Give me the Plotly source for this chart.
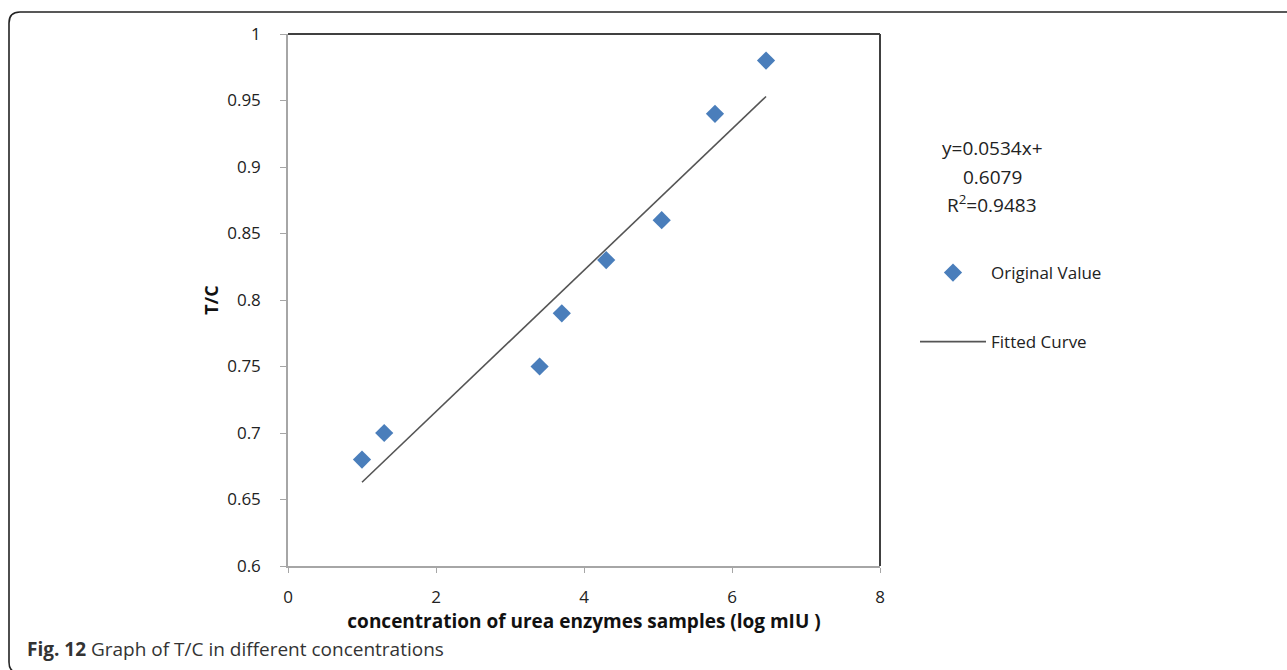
import plotly.graph_objects as go

# ---- data ----
conc_log = [1.0, 1.3, 3.4, 3.7, 4.3, 5.05, 5.77, 6.46]
tc_ratio = [0.68, 0.70, 0.75, 0.79, 0.83, 0.86, 0.94, 0.98]

fit_x = [1.0, 6.46]
fit_y = [0.663, 0.953]

y_tickvals = [0.6, 0.65, 0.7, 0.75, 0.8, 0.85, 0.9, 0.95, 1.0]
y_ticktext = ["0.6", "0.65", "0.7", "0.75", "0.8", "0.85", "0.9", "0.95", "1"]
x_tickvals = [0, 2, 4, 6, 8]
x_ticktext = ["0", "2", "4", "6", "8"]

equation_lines = ["y=0.0534x+", "0.6079", "R<sup>2</sup>=0.9483"]
caption_text = "<b>Fig. 12</b> Graph of T/C in different concentrations"

# ---- layout geometry (pixels) ----
W, H = 1287, 670
L, R, T, B = 288, 880, 34, 566
PW, PH = R - L, B - T


def px(x):
    return (x - L) / PW


def py(y):
    return (B - y) / PH


FONT = "Open Sans, DejaVu Sans, sans-serif"
AX_GRAY = "#A6A6A6"

fig = go.Figure()
fig.add_trace(go.Scatter(
    x=conc_log, y=tc_ratio, mode="markers", name="Original Value",
    marker=dict(symbol="diamond", size=14, color="#4A7EBB", line=dict(width=0)),
    legendgroup="a",
))
fig.add_trace(go.Scatter(
    x=fit_x, y=fit_y, mode="lines", name="Fitted Curve",
    line=dict(color="#555555", width=1.6),
    legendgroup="b",
))

# figure frame: rounded rectangle open on the right (bottom edge just off-page)
fl, ft, fb, rr = 9, 12, 673, 11
fr = 1300
path = (
    f"M {px(fr)},{py(ft)} L {px(fl + rr)},{py(ft)} "
    f"Q {px(fl)},{py(ft)} {px(fl)},{py(ft + rr)} "
    f"L {px(fl)},{py(fb - rr)} "
    f"Q {px(fl)},{py(fb)} {px(fl + rr)},{py(fb)} "
    f"L {px(fr)},{py(fb)}"
)

shapes = [
    dict(type="path", xref="paper", yref="paper", path=path,
         line=dict(color="#222222", width=1.6)),
    dict(type="line", xref="paper", yref="paper", x0=0, x1=1, y0=1, y1=1,
         line=dict(color="#404040", width=2)),
    dict(type="line", xref="paper", yref="paper", x0=1, x1=1, y0=0, y1=1,
         line=dict(color="#404040", width=2)),
]

annotations = []
for txt, yy in zip(equation_lines, [148, 177, 204]):
    annotations.append(dict(
        xref="paper", yref="paper", x=px(992), y=py(yy), text=txt,
        showarrow=False, xanchor="center", yanchor="middle", align="center",
        font=dict(family=FONT, size=19, color="#222222")))
annotations.append(dict(
    xref="paper", yref="paper", x=px(25), y=py(649), text=caption_text,
    showarrow=False, xanchor="left", yanchor="middle", align="left",
    font=dict(family=FONT, size=19, color="#333333")))

fig.update_layout(
    width=W, height=H,
    margin=dict(l=L, r=W - R, t=T, b=H - B, pad=0),
    paper_bgcolor="white", plot_bgcolor="white",
    font=dict(family=FONT, color="#222222"),
    showlegend=True,
    legend=dict(
        x=px(915), y=py(255), xanchor="left", yanchor="top",
        traceorder="grouped", tracegroupgap=44,
        font=dict(family=FONT, size=17, color="#222222"),
        bgcolor="rgba(0,0,0,0)", itemwidth=66,
    ),
    shapes=shapes,
    annotations=annotations,
    xaxis=dict(
        range=[0, 8], tickvals=x_tickvals, ticktext=x_ticktext,
        showgrid=False, zeroline=False, showline=True, linecolor=AX_GRAY, linewidth=1.5,
        ticks="outside", ticklen=5, tickcolor=AX_GRAY, tickwidth=1,
        tickfont=dict(size=17, color="#222222"), ticklabelstandoff=10,
        title=dict(text="<b>concentration of urea enzymes samples (log mIU )</b>",
                   font=dict(size=19, color="#111111"), standoff=0),
    ),
    yaxis=dict(
        range=[0.6, 1.0], tickvals=y_tickvals, ticktext=y_ticktext,
        showgrid=False, zeroline=False, showline=True, linecolor=AX_GRAY, linewidth=1.5,
        ticks="outside", ticklen=6, tickcolor=AX_GRAY, tickwidth=1,
        tickfont=dict(size=17, color="#222222"), ticklabelstandoff=16,
        title=dict(text="<b>T/C</b>", font=dict(size=18, color="#111111"), standoff=4),
    ),
)

fig.write_html("out.html", config={"displayModeBar": False},
               post_script="document.body.style.margin='0';")
